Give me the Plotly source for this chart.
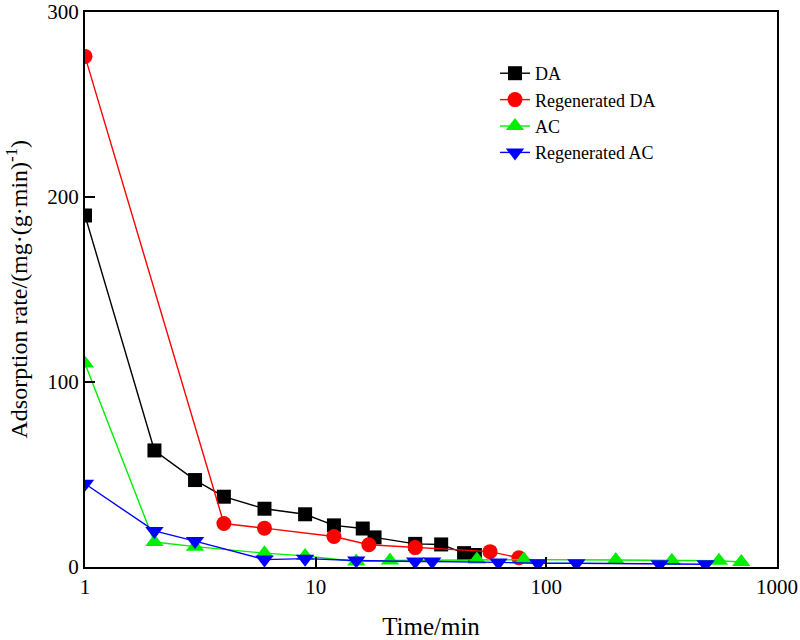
import plotly.graph_objects as go

da_x = [1, 2, 3, 4, 6, 9, 12, 16, 18, 27, 35, 44, 49]
da_y = [190, 63, 47, 38, 31.5, 28.5, 22.5, 20.8, 16, 12.5, 12.2, 7.5, 6.5]

rda_x = [1, 4, 6, 12, 17, 27, 57, 76]
rda_y = [276, 23.5, 21, 16.5, 12, 10.5, 8.3, 5]

ac_x = [1, 2, 3, 6, 9, 15, 21, 50, 80, 200, 350, 560, 700]
ac_y = [110, 13.5, 11, 7.5, 6, 3, 3.5, 4, 4, 3.8, 3.4, 3.4, 2.7]

rac_x = [1, 2, 3, 6, 9, 15, 27, 32, 62, 92, 135, 310, 490]
rac_y = [45, 19.5, 14, 4, 4.5, 3.5, 3, 3, 2.5, 2, 2, 1.5, 1.5]

x_ticks = [1, 10, 100, 1000]
y_ticks = [0, 100, 200, 300]

series = [
    ("DA", da_x, da_y, "#000000", "square", 14),
    ("Regenerated DA", rda_x, rda_y, "#ff0000", "circle", 15),
    ("AC", ac_x, ac_y, "#00ee00", "triangle-up", 16),
    ("Regenerated AC", rac_x, rac_y, "#0000ff", "triangle-down", 16),
]

fig = go.Figure()
for name, xs, ys, col, sym, sz in series:
    fig.add_trace(go.Scatter(
        x=xs, y=ys, name=name, mode="lines+markers",
        line=dict(color=col, width=1.4),
        marker=dict(color=col, symbol=sym, size=sz, line=dict(width=0)),
    ))

font = "Liberation Serif, Times New Roman, serif"
fig.update_layout(
    width=800, height=640,
    margin=dict(l=85, r=23, t=12, b=73),
    paper_bgcolor="white", plot_bgcolor="white",
    font=dict(family=font, size=21, color="black"),
    showlegend=True,
    legend=dict(x=0.5925, y=0.818, xanchor="left", yanchor="middle",
                font=dict(family=font, size=18, color="black"),
                bgcolor="rgba(0,0,0,0)", tracegroupgap=0),
    xaxis=dict(type="log", range=[0, 3], tickvals=x_ticks,
               ticktext=[str(v) for v in x_ticks], automargin=False,
               ticklabeloverflow="allow",
               ticks="inside", ticklen=10, tickwidth=2, tickcolor="black",
               showline=True, linewidth=2, linecolor="black", mirror=True,
               showgrid=False, zeroline=False,
               tickfont=dict(size=21),
               title=dict(text="Time/min", font=dict(size=25), standoff=25)),
    yaxis=dict(range=[0, 300], tickvals=y_ticks, automargin=False,
               ticklabeloverflow="allow",
               ticks="inside", ticklen=10, tickwidth=2, tickcolor="black",
               showline=True, linewidth=2, linecolor="black", mirror=True,
               showgrid=False, zeroline=False,
               tickfont=dict(size=21)),
    annotations=[dict(
        text="Adsorption rate/(mg·(g·min)<sup>-1</sup>)",
        xref="paper", yref="paper", x=0, y=0.5, xanchor="center",
        yanchor="middle", xshift=-69, textangle=-90, showarrow=False,
        font=dict(family=font, size=24, color="black"))],
)

fig.write_html("out.html")
